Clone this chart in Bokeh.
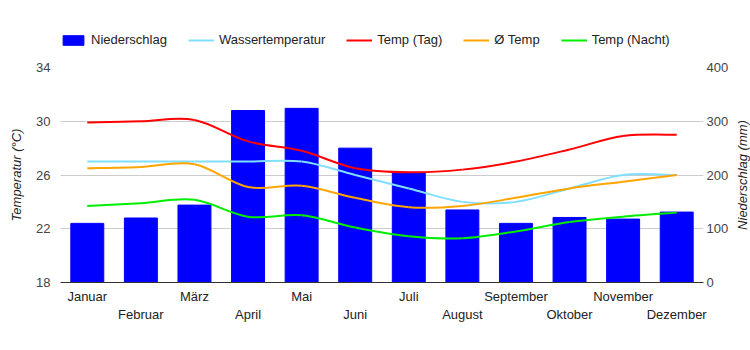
import numpy as np
from bokeh.plotting import figure
from bokeh.layouts import column, row
from bokeh.models import Range1d, LinearAxis, FixedTicker, Legend, LegendItem, ColumnDataSource
from bokeh.embed import file_html
from bokeh.resources import INLINE

months = ["Januar", "Februar", "März", "April", "Mai", "Juni", "Juli",
          "August", "September", "Oktober", "November", "Dezember"]
niederschlag = [110, 120, 144, 320, 324, 250, 205, 135, 110, 121, 118, 131]
wassertemp = [27, 27, 27, 27, 27, 26, 25, 24, 24, 25, 26, 26]
temp_tag = [29.9, 30.0, 30.1, 28.5, 27.8, 26.5, 26.2, 26.4, 27.0, 27.9, 28.9, 29.0]
temp_avg = [26.5, 26.6, 26.8, 25.1, 25.2, 24.3, 23.6, 23.7, 24.3, 25.0, 25.5, 26.0]
temp_nacht = [23.7, 23.9, 24.15, 22.9, 23.0, 22.1, 21.45, 21.3, 21.8, 22.5, 22.9, 23.2]
temp_ticks = [18, 22, 26, 30, 34]
rain_ticks = [0, 100, 200, 300, 400]

FONT = "Liberation Sans"
BAR_COLOR = "#0000ff"
series = [("Wassertemperatur", wassertemp, "#80dfff"),
          ("Temp (Tag)", temp_tag, "#ff0000"),
          ("Ø Temp", temp_avg, "#ffa500"),
          ("Temp (Nacht)", temp_nacht, "#00ee00")]
xs = np.arange(len(months), dtype=float)
NAN = float("nan")


def bare(fig):
    fig.outline_line_color = None
    fig.background_fill_color = "white"
    fig.border_fill_color = "white"
    fig.grid.visible = False


# ---------------- main chart ----------------
p = figure(width=731, height=291, output_backend="svg", toolbar_location=None,
           x_range=Range1d(-0.5, 11.5), y_range=Range1d(temp_ticks[0], temp_ticks[-1]),
           min_border_left=60, min_border_right=27, min_border_top=8, min_border_bottom=68)
p.extra_y_ranges = {"rain": Range1d(rain_ticks[0], rain_ticks[-1])}
bare(p)
p.ygrid.visible = True
p.ygrid.ticker = FixedTicker(ticks=temp_ticks)
p.ygrid.grid_line_color = "#cccccc"

p.vbar(x=xs, top=niederschlag, bottom=0, width=0.615, color=BAR_COLOR, y_range_name="rain")


def smooth(vals):
    v = np.asarray(vals, dtype=float)
    n = len(v)
    s = 1.0 / 6.0
    x0, y0, x1, y1, cx0, cy0, cx1, cy1 = [], [], [], [], [], [], [], []
    for i in range(n - 1):
        pm = i - 1 if i > 0 else i
        pp = i + 2 if i + 2 < n else i + 1
        x0.append(xs[i]); y0.append(v[i]); x1.append(xs[i + 1]); y1.append(v[i + 1])
        cx0.append(xs[i] + (xs[i + 1] - xs[pm]) * s)
        cy0.append(v[i] + (v[i + 1] - v[pm]) * s)
        cx1.append(xs[i + 1] - (xs[pp] - xs[i]) * s)
        cy1.append(v[i + 1] - (v[pp] - v[i]) * s)
    return ColumnDataSource(dict(x0=x0, y0=y0, x1=x1, y1=y1, cx0=cx0, cy0=cy0, cx1=cx1, cy1=cy1))


for name, vals, col in series:
    p.bezier(x0="x0", y0="y0", x1="x1", y1="y1", cx0="cx0", cy0="cy0",
             cx1="cx1", cy1="cy1", source=smooth(vals), line_color=col, line_width=2)

# left axis
la = p.yaxis[0]
la.ticker = FixedTicker(ticks=temp_ticks)
la.axis_line_color = None
la.major_tick_line_color = None
la.minor_tick_line_color = None
la.major_tick_out = 0
la.major_tick_in = 0
la.major_label_standoff = 10
la.major_label_text_font = FONT
la.major_label_text_font_size = "13px"
la.major_label_text_color = "#444444"
la.axis_label = "Temperatur (°C)"
la.axis_label_text_font = FONT
la.axis_label_text_font_size = "13px"
la.axis_label_text_font_style = "italic"
la.axis_label_text_color = "#222222"
la.axis_label_standoff = 9

# right axis (tick labels only; its title is drawn in the side strip)
ra = LinearAxis(y_range_name="rain", ticker=FixedTicker(ticks=rain_ticks))
ra.axis_line_color = None
ra.major_tick_line_color = None
ra.minor_tick_line_color = None
ra.major_tick_out = 0
ra.major_tick_in = 0
ra.major_label_standoff = 3
ra.major_label_text_font = FONT
ra.major_label_text_font_size = "13px"
ra.major_label_text_color = "#444444"
p.add_layout(ra, "right")

# bottom axes (staggered month labels)
xa1 = p.xaxis[0]
xa1.ticker = FixedTicker(ticks=[int(i) for i in xs[0::2]])
xa1.major_label_overrides = {int(i): months[int(i)] for i in xs[0::2]}
xa2 = LinearAxis(ticker=FixedTicker(ticks=[int(i) for i in xs[1::2]]))
xa2.major_label_overrides = {int(i): months[int(i)] for i in xs[1::2]}
p.add_layout(xa2, "below")
for ax in (xa1, xa2):
    ax.major_tick_line_color = None
    ax.minor_tick_line_color = None
    ax.major_tick_out = 0
    ax.major_tick_in = 0
    ax.axis_label_standoff = 0
    ax.major_label_text_font = FONT
    ax.major_label_text_font_size = "13px"
    ax.major_label_text_color = "#222222"
xa1.axis_line_color = "#333333"
xa1.major_label_standoff = 6
xa2.axis_line_color = None
xa2.major_label_standoff = 0

# ---------------- right title strip ----------------
t = figure(width=19, height=291, output_backend="svg", toolbar_location=None,
           x_range=Range1d(0, 1), y_range=Range1d(0, 1), x_axis_location=None,
           min_border_left=18, min_border_right=0, min_border_top=8, min_border_bottom=68)
bare(t)
ta = t.yaxis[0]
ta.ticker = FixedTicker(ticks=[])
ta.axis_line_color = None
ta.major_tick_line_color = None
ta.minor_tick_line_color = None
ta.major_tick_out = 0
ta.major_tick_in = 0
ta.major_label_standoff = 0
ta.axis_label = "Niederschlag (mm)"
ta.axis_label_text_font = FONT
ta.axis_label_text_font_size = "13px"
ta.axis_label_text_font_style = "italic"
ta.axis_label_text_color = "#222222"
ta.axis_label_standoff = 0

# ---------------- legend strip ----------------
lg = figure(width=750, height=59, output_backend="svg", toolbar_location=None,
            x_range=Range1d(0, 1), y_range=Range1d(0, 1),
            x_axis_location=None, y_axis_location=None,
            min_border_left=0, min_border_right=0, min_border_top=0, min_border_bottom=0)
bare(lg)
# placeholder renderers (NaN, nothing drawn) that only supply the legend swatches
items = [LegendItem(label="Niederschlag",
                    renderers=[lg.vbar(x=[NAN], top=[NAN], width=0.5, color=BAR_COLOR)])]
for name, vals, col in series:
    items.append(LegendItem(label=name,
                            renderers=[lg.line(x=[NAN], y=[NAN], line_color=col, line_width=2)]))
legend = Legend(items=items, orientation="horizontal", location=(60, 12),
                glyph_width=26, glyph_height=12, label_standoff=5, spacing=21,
                padding=0, margin=0, border_line_alpha=0, background_fill_alpha=0,
                label_text_font=FONT, label_text_font_size="13px",
                label_text_color="#222222", label_height=12)
lg.add_layout(legend, "center")

layout = column(lg, row(p, t, spacing=0), spacing=0)
open("out.html", "w").write(file_html(layout, INLINE))
